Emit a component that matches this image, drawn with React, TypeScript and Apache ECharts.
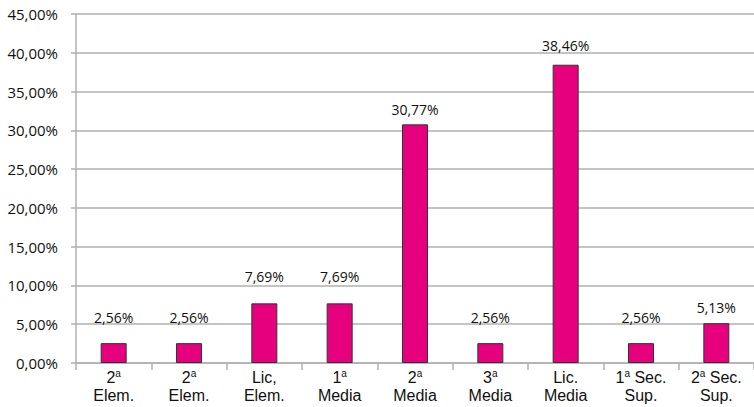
import React, { useEffect, useRef } from "react";
import * as echarts from "echarts";

const categories = [
  "2{sup|a}\nElem.",
  "2{sup|a}\nElem.",
  "Lic,\nElem.",
  "1{sup|a}\nMedia",
  "2{sup|a}\nMedia",
  "3{sup|a}\nMedia",
  "Lic.\nMedia",
  "1{sup|a} Sec.\nSup.",
  "2{sup|a} Sec.\nSup.",
];
const values = [2.56, 2.56, 7.69, 7.69, 30.77, 2.56, 38.46, 2.56, 5.13];
const yMin = 0;
const yMax = 45;
const yInterval = 5;

// label offsets above each bar (style only)
const labelGaps = [19, 19, 20, 20, 8, 19, 12, 19, 9];

const FONT = "Open Sans";
const XFONT = "Liberation Sans";
const fmt = (v: number) => v.toFixed(2).replace(".", ",") + "%";

export default function App() {
  const ref = useRef<HTMLDivElement>(null);
  useEffect(() => {
    if (!ref.current) return;
    const chart = echarts.init(ref.current, undefined, { renderer: "svg" });
    chart.setOption({
      animation: false,
      backgroundColor: "#ffffff",
      grid: { left: 76, right: -6, top: 14, bottom: 44, containLabel: false },
      xAxis: {
        type: "category",
        data: categories,
        axisLine: { show: true, lineStyle: { color: "#b0b0b0", width: 1.5 } },
        axisTick: { show: true, length: 7, lineStyle: { color: "#b0b0b0", width: 1.5 } },
        axisLabel: {
          interval: 0,
          margin: 5,
          color: "#111",
          fontFamily: XFONT,
          fontSize: 16,
          lineHeight: 18,
          rich: {
            sup: { fontSize: 10, fontFamily: XFONT, color: "#111", verticalAlign: "top", lineHeight: 18 },
          },
        },
      },
      yAxis: {
        type: "value",
        min: yMin,
        max: yMax,
        interval: yInterval,
        axisLine: { show: true, lineStyle: { color: "#b0b0b0", width: 1.5 } },
        axisTick: { show: true, length: 5, lineStyle: { color: "#b0b0b0", width: 1.5 } },
        splitLine: { show: true, lineStyle: { color: "#b0b0b0", width: 1.5 } },
        axisLabel: {
          color: "#111",
          fontFamily: FONT,
          fontSize: 15,
          margin: 18,
          formatter: (v: number) => fmt(v),
        },
      },
      series: [
        {
          type: "bar",
          data: values.map((v, i) => ({ value: v, label: { distance: labelGaps[i] } })),
          barWidth: 26,
          itemStyle: { color: "#e6007e", borderColor: "#333", borderWidth: 1 },
          label: {
            show: true,
            position: "top",
            color: "#111",
            fontFamily: FONT,
            fontSize: 14,
            formatter: (p: any) => fmt(p.value),
          },
        },
      ],
    });
    return () => chart.dispose();
  }, []);
  return (
    <div
      ref={ref}
      style={{ position: "fixed", left: 0, top: 0, width: 754, height: 407 }}
    />
  );
}
